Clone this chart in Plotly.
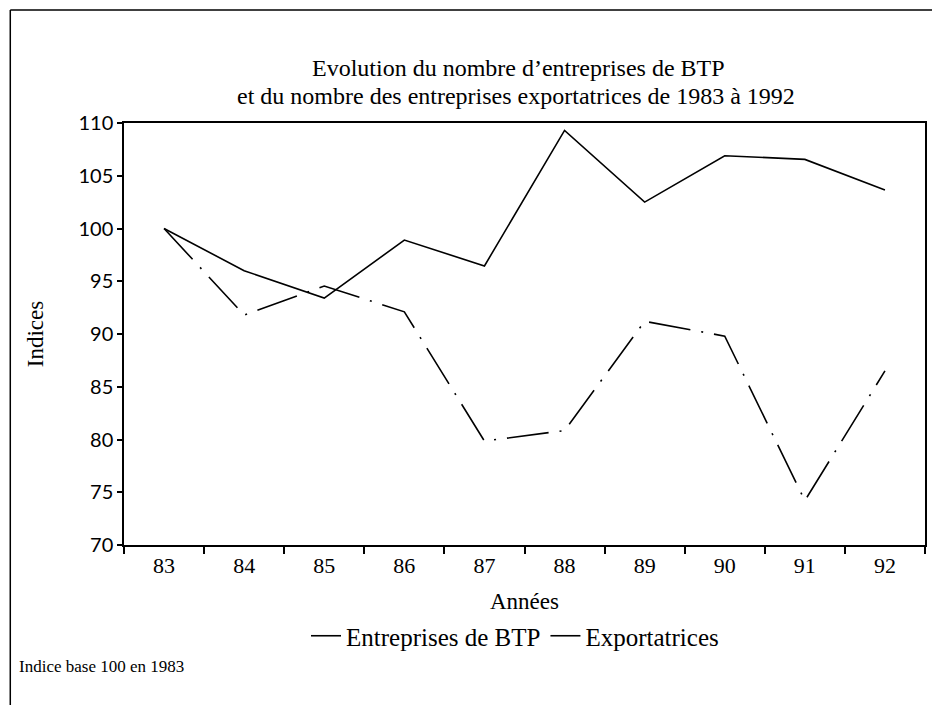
import plotly.graph_objects as go

years = ["83", "84", "85", "86", "87", "88", "89", "90", "91", "92"]
btp = [100, 96.0, 93.4, 98.9, 96.45, 109.3, 102.5, 106.9, 106.55, 103.65]
export = [100, 91.8, 94.55, 92.1, 79.85, 80.85, 91.2, 89.8, 74.2, 86.5]
y_ticks = [70, 75, 80, 85, 90, 95, 100, 105, 110]
title_lines = [
    "Evolution du nombre d’entreprises de BTP",
    "et du nombre des entreprises exportatrices de 1983 à 1992",
]

serif = "Liberation Serif"
sans = "Lato"

fig = go.Figure()
fig.add_trace(go.Scatter(
    x=years, y=btp, mode="lines", name="Entreprises de BTP",
    line=dict(color="black", width=1.6),
))
fig.add_trace(go.Scatter(
    x=years, y=export, mode="lines", name="Exportatrices",
    line=dict(color="black", width=1.6, dash="42px,11px,2px,11px"),
))

def py(px):
    return (545 - px) / 422

def pxx(px):
    return (px - 124) / 803

annotations = [
    dict(text=title_lines[0], xref="paper", yref="paper", x=pxx(519), y=py(68),
         xanchor="center", yanchor="middle", showarrow=False,
         font=dict(family=serif, size=24)),
    dict(text=title_lines[1], xref="paper", yref="paper", x=pxx(517), y=py(96),
         xanchor="center", yanchor="middle", showarrow=False,
         font=dict(family=serif, size=24)),
    dict(text="Indice base 100 en 1983", xref="paper", yref="paper",
         x=pxx(17), y=py(666), xanchor="left", yanchor="middle",
         showarrow=False, font=dict(family=serif, size=17)),
]

fig.update_layout(
    width=932, height=705,
    margin=dict(l=124, r=5, t=123, b=160),
    paper_bgcolor="white", plot_bgcolor="white",
    font=dict(family=serif, color="black", size=18),
    showlegend=True,
    legend=dict(
        orientation="h", x=pxx(516), xanchor="center", y=py(636), yanchor="middle",
        font=dict(family=serif, size=25), itemwidth=30, tracegroupgap=0,
        bgcolor="rgba(0,0,0,0)",
    ),
    annotations=annotations,
    shapes=[
        dict(type="line", xref="paper", yref="paper",
             x0=pxx(10), x1=pxx(940), y0=py(10), y1=py(10),
             line=dict(color="black", width=1.5)),
        dict(type="line", xref="paper", yref="paper",
             x0=pxx(10), x1=pxx(10), y0=py(10), y1=py(710),
             line=dict(color="black", width=1.5)),
    ],
)

fig.update_xaxes(
    type="category", categoryorder="array", categoryarray=years, range=[-0.5, 9.5],
    tickson="boundaries", ticks="outside", ticklen=7, tickwidth=1.5, tickcolor="black",
    showline=True, linecolor="black", linewidth=1.5, mirror=True,
    showgrid=False, zeroline=False,
    tickfont=dict(family=serif, size=22),
    title=dict(text="Années", font=dict(family=serif, size=23), standoff=16),
)
fig.update_yaxes(
    range=[70, 110], tickvals=y_ticks, ticks="outside", ticklen=5, tickwidth=1.5,
    tickcolor="black", showline=True, linecolor="black", linewidth=1.5, mirror=True,
    showgrid=False, zeroline=False,
    tickfont=dict(family=sans, size=20),
    title=dict(text="Indices", font=dict(family=serif, size=23), standoff=28),
)

fig.write_html("out.html", config={"displayModeBar": False},
               post_script="document.body.style.margin='0';")
